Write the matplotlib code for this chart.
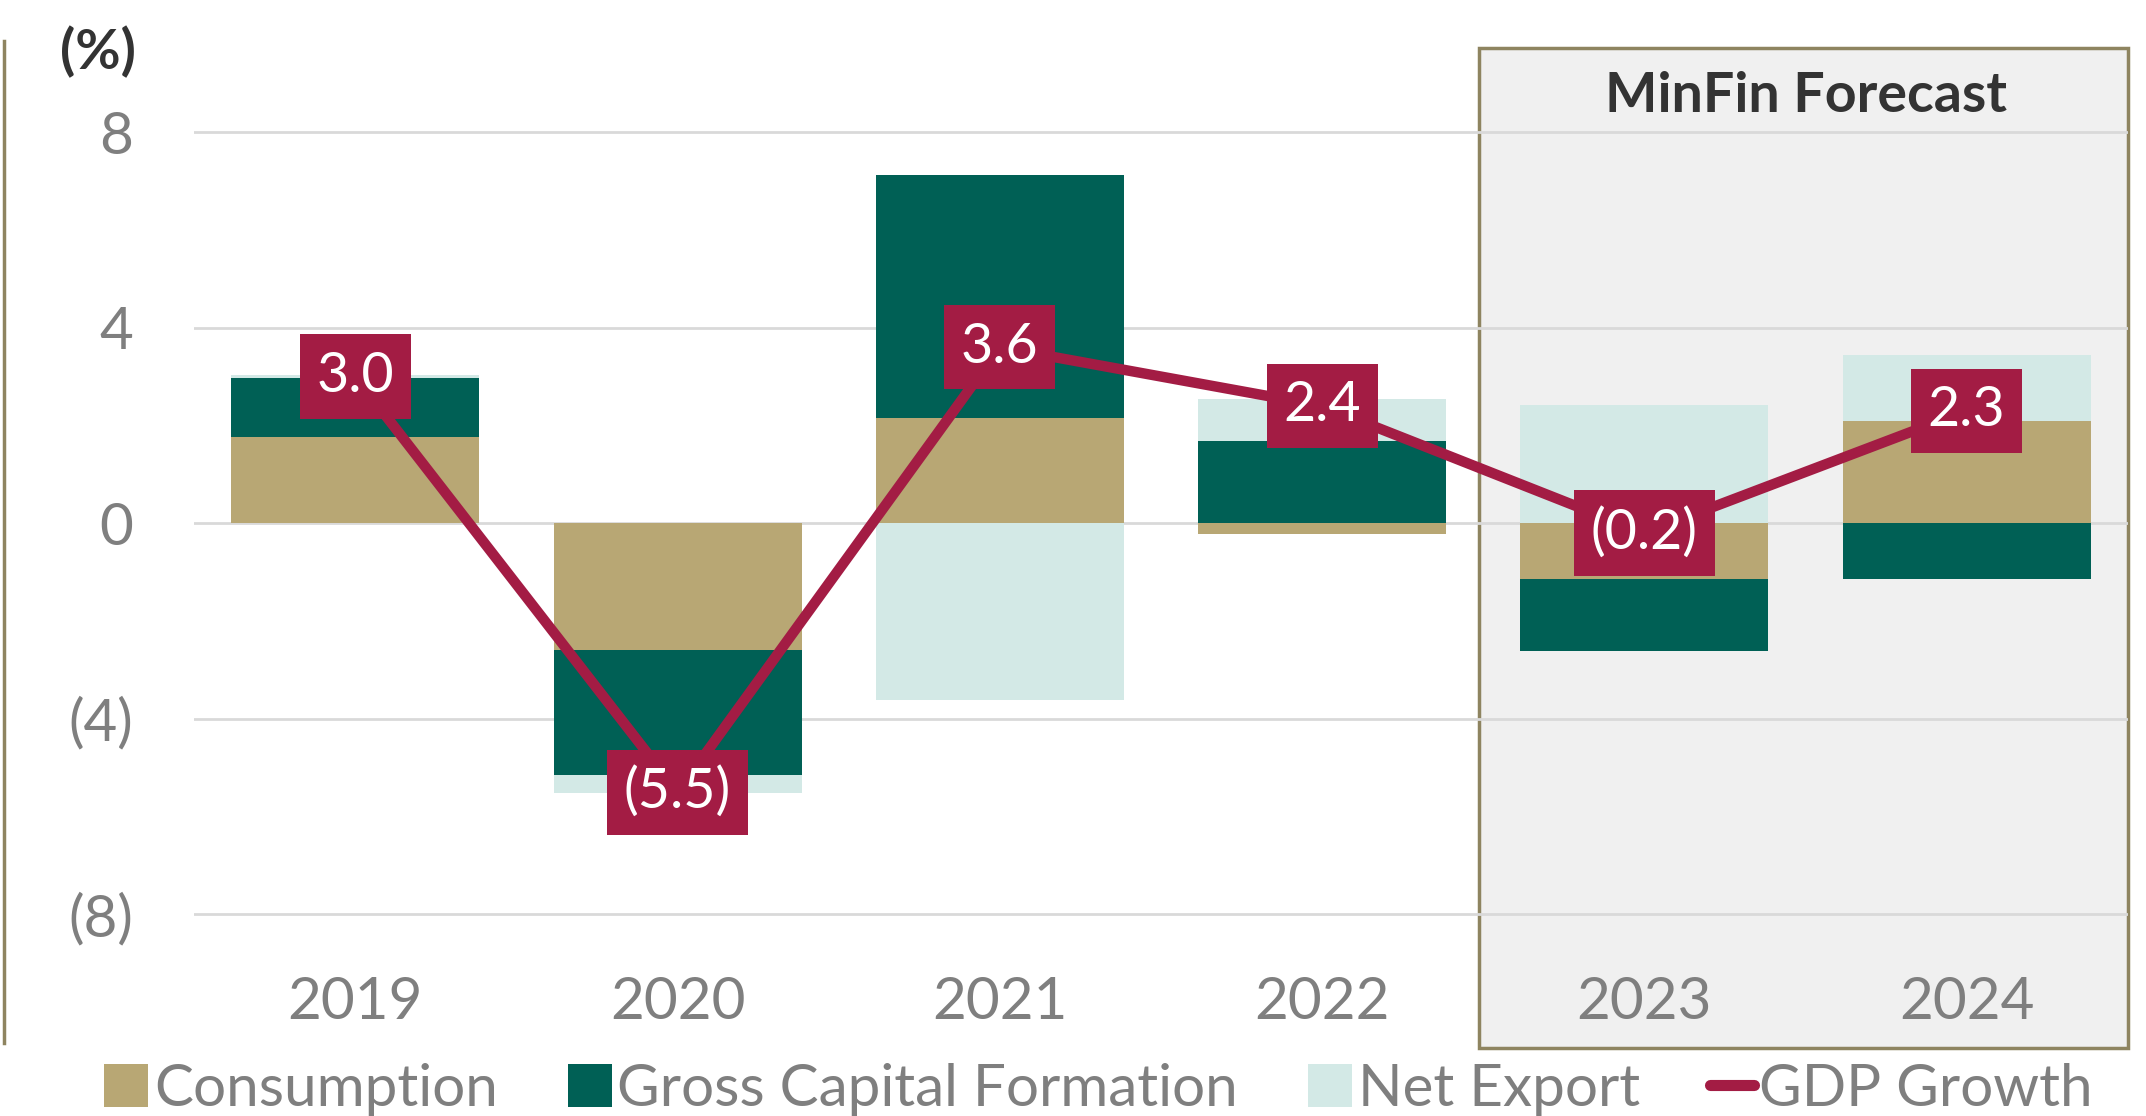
import numpy as np
import matplotlib.pyplot as plt
from matplotlib.patches import Rectangle
from matplotlib.lines import Line2D

# data (percentage-point contributions)
years = ['2019', '2020', '2021', '2022', '2023', '2024']
consumption = [1.76, -2.59, 2.15, -0.22, -1.14, 2.10]
gross_capital = [1.22, -2.56, 4.98, 1.68, -1.47, -1.15]
net_export = [0.05, -0.37, -3.61, 0.86, 2.42, 1.34]
gdp_growth = [3.0, -5.5, 3.6, 2.4, -0.2, 2.3]
gdp_labels = ['3.0', '(5.5)', '3.6', '2.4', '(0.2)', '2.3']

c_cons = '#B8A774'
c_gcf = '#006055'
c_net = '#D3E9E6'
c_gdp = '#A31C44'
c_olive = '#8E8460'
c_tick = '#7F7F7F'

plt.rcParams['font.family'] = ['Lato', 'DejaVu Sans']

fig = plt.figure(figsize=(21.46, 11.16), dpi=100)
ax = fig.add_axes([0.0905, 0.128, 0.901, 0.7975])

x = np.arange(len(years))
w = 0.77

# stacked bars, positives go up from 0 and negatives go down from 0
pos_base = np.zeros(len(years))
neg_base = np.zeros(len(years))
for vals, col in [(consumption, c_cons), (gross_capital, c_gcf), (net_export, c_net)]:
    vals = np.array(vals)
    base = np.where(vals >= 0, pos_base, neg_base)
    ax.bar(x, vals, w, bottom=base, color=col, zorder=2)
    pos_base += np.where(vals >= 0, vals, 0)
    neg_base += np.where(vals < 0, vals, 0)

ax.plot(x, gdp_growth, color=c_gdp, lw=7.5, zorder=3, solid_capstyle='round')
for xi, yi, lab in zip(x, gdp_growth, gdp_labels):
    ax.text(xi, yi, lab, ha='center', va='center', color='white', fontsize=40,
            zorder=4, bbox=dict(boxstyle='square,pad=0.3', fc=c_gdp, ec='none'))

# forecast panel
ax.add_patch(Rectangle((3.487, -10.74), 5.5 - 3.487, 9.71 + 10.74, fc='#F0F0F0',
                       ec=c_olive, lw=2.5, zorder=0.1, clip_on=False))
ax.text(4.5, 8.73, 'MinFin Forecast', ha='center', va='center', fontsize=40,
        fontweight='bold', color='#333333', zorder=4)

ax.set_xlim(-0.5, 5.5)
ax.set_ylim(-9.2, 9)
ax.set_yticks([-8, -4, 0, 4, 8])
ax.set_yticklabels(['(8)', '(4)', '0', '4', '8'])
ax.set_xticks(x)
ax.set_xticklabels(years)
ax.tick_params(axis='both', length=0, labelsize=42, labelcolor=c_tick)
ax.tick_params(axis='y', pad=44)
ax.tick_params(axis='x', pad=2)
ax.grid(axis='y', color='#D9D9D9', lw=2, zorder=0.5)
ax.set_axisbelow(True)
ax.patch.set_visible(False)
for s in ax.spines.values():
    s.set_visible(False)

fig.text(0.0457, 0.953, '(%)', ha='center', va='center', fontsize=40,
         fontweight='bold', color='#333333')

# outer border stub on the left
fig.add_artist(Line2D([0.002, 0.002], [0.065, 0.963], color=c_olive, lw=2.5))

handles = [Rectangle((0, 0), 1, 1, fc=c_cons), Rectangle((0, 0), 1, 1, fc=c_gcf),
           Rectangle((0, 0), 1, 1, fc=c_net),
           Line2D([0], [0], color=c_gdp, lw=8, solid_capstyle='round')]
leg = fig.legend(handles, ['Consumption', 'Gross Capital Formation', 'Net Export', 'GDP Growth'],
                 loc='center', bbox_to_anchor=(0.512, 0.024), ncol=4, frameon=False,
                 fontsize=42, handlelength=0.75, handleheight=0.75, handletextpad=0.1,
                 columnspacing=1.2, labelcolor=c_tick)

fig.savefig('out.png', dpi=100)
